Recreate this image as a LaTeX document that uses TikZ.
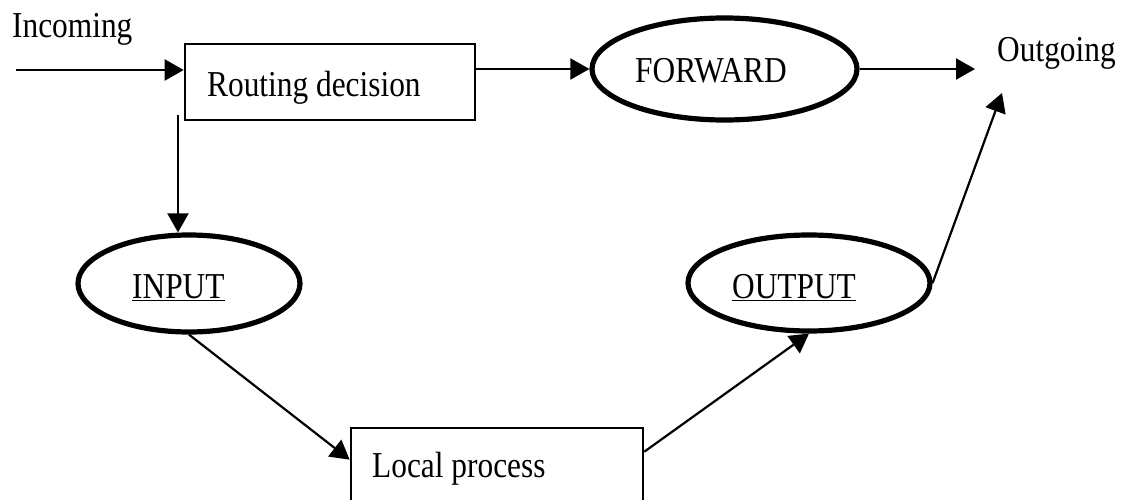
\documentclass[tikz,border=0pt]{standalone}
\usepackage{fontspec}
\setmainfont{Liberation Serif}
\usetikzlibrary{arrows.meta,shapes.geometric,calc}
\newcommand{\tallt}[1]{\scalebox{0.98}[1.14]{#1}}
\tikzset{
  lbl/.style={inner sep=0pt, anchor=base west, font=\fontsize{32}{38}\selectfont},
  boxnode/.style={draw, line width=2.6pt, rectangle, inner sep=0pt},
  oval/.style={draw, line width=5.2pt, ellipse, inner sep=0pt},
  arr/.style={line width=2.2pt, -{Triangle[length=19pt,width=21pt]}},
}
\begin{document}
\begin{tikzpicture}[x=1pt,y=-1pt]
\useasboundingbox (0,0) rectangle (1122,500);
% boxes and ovals
\node[boxnode, minimum width=290pt, minimum height=76pt] (route) at (330,82) {};
\node[boxnode, minimum width=292pt, minimum height=104pt] (local) at (497,480) {};
\node[oval, minimum width=265pt, minimum height=102pt] (fwd) at (724.5,69) {};
\node[oval, minimum width=222pt, minimum height=97pt] (input) at (189,283.5) {};
\node[oval, minimum width=242pt, minimum height=96pt] (output) at (809,283) {};
% texts
\node[lbl] (tinc) at (12,38) {\tallt{Incoming}};
\node[lbl] (tout) at (997,62) {\tallt{Outgoing}};
\node[lbl] (troute) at (207,97) {\tallt{Routing decision}};
\node[lbl] (tlocal) at (372,477) {\tallt{Local process}};
\node[lbl] (tfwd) at (635,83) {\tallt{FORWARD}};
\node[lbl] (tinput) at (132,298) {\tallt{\underline{INPUT}}};
\node[lbl] (toutput) at (732,298) {\tallt{\underline{OUTPUT}}};
% free ends
\coordinate (inc) at (16,70);
\coordinate (outtip) at (975,69);
\coordinate (uptip) at (1002,93);
\coordinate (dstart) at (178,115);
% connectors
\draw[arr] (inc) -- (inc -| route.west);
\draw[arr] (fwd.west -| route.east) -- (fwd.west);
\draw[arr] (fwd.east) -- (outtip);
\draw[arr] (dstart) -- (dstart |- input.north);
\draw[arr] (input.south) -- ($(local.north west)+(0,33)$);
\draw[arr] ($(local.north east)+(0,25)$) -- (output.south);
\draw[arr] (output.east) -- (uptip);
\end{tikzpicture}
\end{document}
